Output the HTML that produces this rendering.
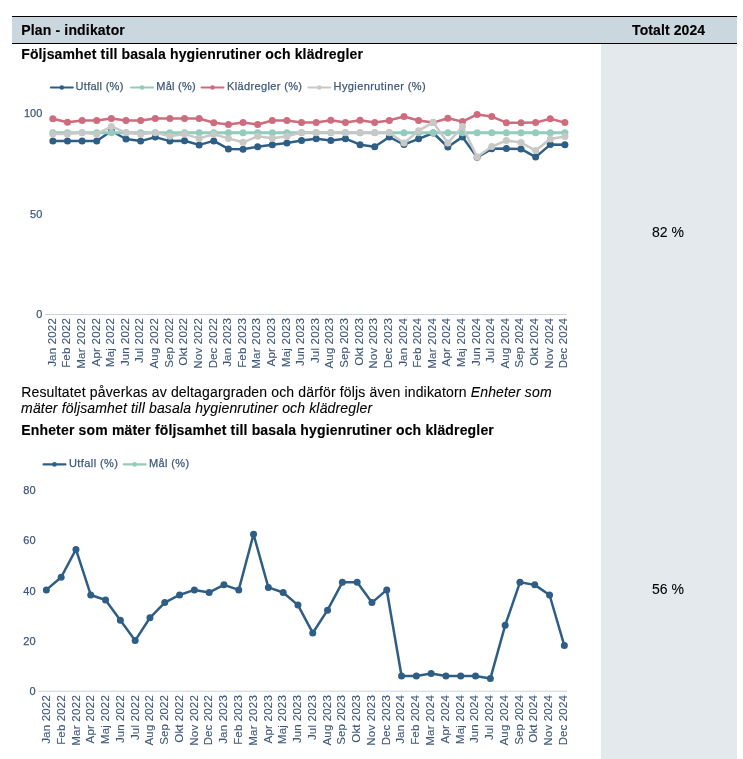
<!DOCTYPE html>
<html><head><meta charset="utf-8"><style>
html,body{margin:0;padding:0;background:#fff;}
body{width:743px;height:759px;position:relative;overflow:hidden;font-family:"Liberation Sans",sans-serif;}
.hdr{position:absolute;left:12px;top:16px;width:725px;height:26px;background:#cbd7df;border-top:1px solid #000;border-bottom:1px solid #000;}
.col{position:absolute;left:601px;top:44px;width:136px;height:715px;background:#e4e9ed;}
svg{position:absolute;left:0;top:0;will-change:transform;}
svg text{font-family:"Liberation Sans",sans-serif;}
.b{font-weight:bold;font-size:14px;letter-spacing:0px;fill:#000;stroke:#000;stroke-width:0.15px;}
.r{font-size:14px;letter-spacing:0px;fill:#000;stroke:#000;stroke-width:0.1px;}
.lg{font-size:11px;fill:#3f5879;stroke:#3f5879;stroke-width:0.25px;}
.yl{font-size:11px;fill:#3f5879;stroke:#3f5879;stroke-width:0.25px;}
.xl{font-size:11.5px;fill:#3f5879;stroke:#3f5879;stroke-width:0.12px;}
</style></head><body>
<div class="hdr"></div>
<div class="col"></div>
<svg width="743" height="759" viewBox="0 0 743 759">
<text x="21.2" y="35" class="b" textLength="103.6">Plan - indikator</text>
<text x="632.1" y="35" class="b" textLength="73">Totalt 2024</text>
<text x="21.2" y="59" class="b" textLength="341.7">Följsamhet till basala hygienrutiner och klädregler</text>
<text x="21.2" y="397" class="r" textLength="530.4">Resultatet påverkas av deltagargraden och därför följs även indikatorn <tspan font-style="italic">Enheter som</tspan></text>
<text x="21.1" y="412.7" class="r" font-style="italic" textLength="351">mäter följsamhet till basala hygienrutiner och klädregler</text>
<text x="21.2" y="435" class="b" textLength="472.6">Enheter som mäter följsamhet till basala hygienrutiner och klädregler</text>
<text x="652" y="237" class="r" textLength="32">82 %</text>
<text x="652" y="594" class="r" textLength="32">56 %</text>
<line x1="45" y1="314.5" x2="567" y2="314.5" stroke="#c9d3dc" stroke-width="1"/><text x="42.3" y="117.30" text-anchor="end" class="yl">100</text><text x="42.3" y="217.80" text-anchor="end" class="yl">50</text><text x="42.3" y="318.40" text-anchor="end" class="yl">0</text><text transform="translate(55.80,318.20) rotate(-90)" text-anchor="end" textLength="48.64" class="xl">Jan 2022</text><text transform="translate(70.41,318.20) rotate(-90)" text-anchor="end" textLength="49.64" class="xl">Feb 2022</text><text transform="translate(85.03,318.20) rotate(-90)" text-anchor="end" textLength="50.66" class="xl">Mar 2022</text><text transform="translate(99.64,318.20) rotate(-90)" text-anchor="end" textLength="48.21" class="xl">Apr 2022</text><text transform="translate(114.26,318.20) rotate(-90)" text-anchor="end" textLength="48.96" class="xl">Maj 2022</text><text transform="translate(128.87,318.20) rotate(-90)" text-anchor="end" textLength="47.93" class="xl">Jun 2022</text><text transform="translate(143.49,318.20) rotate(-90)" text-anchor="end" textLength="44.9" class="xl">Jul 2022</text><text transform="translate(158.10,318.20) rotate(-90)" text-anchor="end" textLength="50.26" class="xl">Aug 2022</text><text transform="translate(172.71,318.20) rotate(-90)" text-anchor="end" textLength="49.45" class="xl">Sep 2022</text><text transform="translate(187.33,318.20) rotate(-90)" text-anchor="end" textLength="47.48" class="xl">Okt 2022</text><text transform="translate(201.94,318.20) rotate(-90)" text-anchor="end" textLength="50.47" class="xl">Nov 2022</text><text transform="translate(216.56,318.20) rotate(-90)" text-anchor="end" textLength="50.16" class="xl">Dec 2022</text><text transform="translate(231.17,318.20) rotate(-90)" text-anchor="end" textLength="48.64" class="xl">Jan 2023</text><text transform="translate(245.79,318.20) rotate(-90)" text-anchor="end" textLength="49.64" class="xl">Feb 2023</text><text transform="translate(260.40,318.20) rotate(-90)" text-anchor="end" textLength="50.66" class="xl">Mar 2023</text><text transform="translate(275.01,318.20) rotate(-90)" text-anchor="end" textLength="48.21" class="xl">Apr 2023</text><text transform="translate(289.63,318.20) rotate(-90)" text-anchor="end" textLength="48.96" class="xl">Maj 2023</text><text transform="translate(304.24,318.20) rotate(-90)" text-anchor="end" textLength="47.93" class="xl">Jun 2023</text><text transform="translate(318.86,318.20) rotate(-90)" text-anchor="end" textLength="44.9" class="xl">Jul 2023</text><text transform="translate(333.47,318.20) rotate(-90)" text-anchor="end" textLength="50.26" class="xl">Aug 2023</text><text transform="translate(348.09,318.20) rotate(-90)" text-anchor="end" textLength="49.45" class="xl">Sep 2023</text><text transform="translate(362.70,318.20) rotate(-90)" text-anchor="end" textLength="47.48" class="xl">Okt 2023</text><text transform="translate(377.31,318.20) rotate(-90)" text-anchor="end" textLength="50.47" class="xl">Nov 2023</text><text transform="translate(391.93,318.20) rotate(-90)" text-anchor="end" textLength="50.16" class="xl">Dec 2023</text><text transform="translate(406.54,318.20) rotate(-90)" text-anchor="end" textLength="48.64" class="xl">Jan 2024</text><text transform="translate(421.16,318.20) rotate(-90)" text-anchor="end" textLength="49.64" class="xl">Feb 2024</text><text transform="translate(435.77,318.20) rotate(-90)" text-anchor="end" textLength="50.66" class="xl">Mar 2024</text><text transform="translate(450.39,318.20) rotate(-90)" text-anchor="end" textLength="48.21" class="xl">Apr 2024</text><text transform="translate(465.00,318.20) rotate(-90)" text-anchor="end" textLength="48.96" class="xl">Maj 2024</text><text transform="translate(479.61,318.20) rotate(-90)" text-anchor="end" textLength="47.93" class="xl">Jun 2024</text><text transform="translate(494.23,318.20) rotate(-90)" text-anchor="end" textLength="44.9" class="xl">Jul 2024</text><text transform="translate(508.84,318.20) rotate(-90)" text-anchor="end" textLength="50.26" class="xl">Aug 2024</text><text transform="translate(523.46,318.20) rotate(-90)" text-anchor="end" textLength="49.45" class="xl">Sep 2024</text><text transform="translate(538.07,318.20) rotate(-90)" text-anchor="end" textLength="47.48" class="xl">Okt 2024</text><text transform="translate(552.69,318.20) rotate(-90)" text-anchor="end" textLength="50.47" class="xl">Nov 2024</text><text transform="translate(567.30,318.20) rotate(-90)" text-anchor="end" textLength="50.16" class="xl">Dec 2024</text><polyline points="52.85,141.00 67.48,141.00 82.11,141.00 96.74,141.00 111.37,131.00 126.00,139.00 140.63,141.10 155.26,137.10 169.89,141.10 184.52,140.70 199.15,144.90 213.78,140.90 228.41,148.90 243.04,149.20 257.67,146.80 272.30,144.70 286.93,143.00 301.56,140.50 316.19,138.70 330.82,140.50 345.45,138.70 360.08,144.70 374.71,146.80 389.34,137.00 403.97,144.60 418.60,138.80 433.23,133.00 447.86,147.00 462.49,136.90 477.12,157.30 491.75,148.80 506.38,148.60 521.01,148.90 535.64,157.10 550.27,144.60 564.90,144.80" fill="none" stroke="#2e5e86" stroke-width="2.5" stroke-linejoin="round"/><circle cx="52.85" cy="141.00" r="3.5" fill="#2e5e86"/><circle cx="67.48" cy="141.00" r="3.5" fill="#2e5e86"/><circle cx="82.11" cy="141.00" r="3.5" fill="#2e5e86"/><circle cx="96.74" cy="141.00" r="3.5" fill="#2e5e86"/><circle cx="111.37" cy="131.00" r="3.5" fill="#2e5e86"/><circle cx="126.00" cy="139.00" r="3.5" fill="#2e5e86"/><circle cx="140.63" cy="141.10" r="3.5" fill="#2e5e86"/><circle cx="155.26" cy="137.10" r="3.5" fill="#2e5e86"/><circle cx="169.89" cy="141.10" r="3.5" fill="#2e5e86"/><circle cx="184.52" cy="140.70" r="3.5" fill="#2e5e86"/><circle cx="199.15" cy="144.90" r="3.5" fill="#2e5e86"/><circle cx="213.78" cy="140.90" r="3.5" fill="#2e5e86"/><circle cx="228.41" cy="148.90" r="3.5" fill="#2e5e86"/><circle cx="243.04" cy="149.20" r="3.5" fill="#2e5e86"/><circle cx="257.67" cy="146.80" r="3.5" fill="#2e5e86"/><circle cx="272.30" cy="144.70" r="3.5" fill="#2e5e86"/><circle cx="286.93" cy="143.00" r="3.5" fill="#2e5e86"/><circle cx="301.56" cy="140.50" r="3.5" fill="#2e5e86"/><circle cx="316.19" cy="138.70" r="3.5" fill="#2e5e86"/><circle cx="330.82" cy="140.50" r="3.5" fill="#2e5e86"/><circle cx="345.45" cy="138.70" r="3.5" fill="#2e5e86"/><circle cx="360.08" cy="144.70" r="3.5" fill="#2e5e86"/><circle cx="374.71" cy="146.80" r="3.5" fill="#2e5e86"/><circle cx="389.34" cy="137.00" r="3.5" fill="#2e5e86"/><circle cx="403.97" cy="144.60" r="3.5" fill="#2e5e86"/><circle cx="418.60" cy="138.80" r="3.5" fill="#2e5e86"/><circle cx="433.23" cy="133.00" r="3.5" fill="#2e5e86"/><circle cx="447.86" cy="147.00" r="3.5" fill="#2e5e86"/><circle cx="462.49" cy="136.90" r="3.5" fill="#2e5e86"/><circle cx="477.12" cy="157.30" r="3.5" fill="#2e5e86"/><circle cx="491.75" cy="148.80" r="3.5" fill="#2e5e86"/><circle cx="506.38" cy="148.60" r="3.5" fill="#2e5e86"/><circle cx="521.01" cy="148.90" r="3.5" fill="#2e5e86"/><circle cx="535.64" cy="157.10" r="3.5" fill="#2e5e86"/><circle cx="550.27" cy="144.60" r="3.5" fill="#2e5e86"/><circle cx="564.90" cy="144.80" r="3.5" fill="#2e5e86"/><polyline points="52.85,132.70 67.48,132.70 82.11,132.70 96.74,132.70 111.37,132.70 126.00,132.70 140.63,132.70 155.26,132.70 169.89,132.70 184.52,132.70 199.15,132.70 213.78,132.70 228.41,132.70 243.04,132.70 257.67,132.70 272.30,132.70 286.93,132.70 301.56,132.70 316.19,132.70 330.82,132.70 345.45,132.70 360.08,132.70 374.71,132.70 389.34,132.70 403.97,132.70 418.60,132.70 433.23,132.70 447.86,132.70 462.49,132.70 477.12,132.70 491.75,132.70 506.38,132.70 521.01,132.70 535.64,132.70 550.27,132.70 564.90,132.70" fill="none" stroke="#93cbbc" stroke-width="3" stroke-linejoin="round"/><circle cx="52.85" cy="132.70" r="3.5" fill="#93cbbc"/><circle cx="67.48" cy="132.70" r="3.5" fill="#93cbbc"/><circle cx="82.11" cy="132.70" r="3.5" fill="#93cbbc"/><circle cx="96.74" cy="132.70" r="3.5" fill="#93cbbc"/><circle cx="111.37" cy="132.70" r="3.5" fill="#93cbbc"/><circle cx="126.00" cy="132.70" r="3.5" fill="#93cbbc"/><circle cx="140.63" cy="132.70" r="3.5" fill="#93cbbc"/><circle cx="155.26" cy="132.70" r="3.5" fill="#93cbbc"/><circle cx="169.89" cy="132.70" r="3.5" fill="#93cbbc"/><circle cx="184.52" cy="132.70" r="3.5" fill="#93cbbc"/><circle cx="199.15" cy="132.70" r="3.5" fill="#93cbbc"/><circle cx="213.78" cy="132.70" r="3.5" fill="#93cbbc"/><circle cx="228.41" cy="132.70" r="3.5" fill="#93cbbc"/><circle cx="243.04" cy="132.70" r="3.5" fill="#93cbbc"/><circle cx="257.67" cy="132.70" r="3.5" fill="#93cbbc"/><circle cx="272.30" cy="132.70" r="3.5" fill="#93cbbc"/><circle cx="286.93" cy="132.70" r="3.5" fill="#93cbbc"/><circle cx="301.56" cy="132.70" r="3.5" fill="#93cbbc"/><circle cx="316.19" cy="132.70" r="3.5" fill="#93cbbc"/><circle cx="330.82" cy="132.70" r="3.5" fill="#93cbbc"/><circle cx="345.45" cy="132.70" r="3.5" fill="#93cbbc"/><circle cx="360.08" cy="132.70" r="3.5" fill="#93cbbc"/><circle cx="374.71" cy="132.70" r="3.5" fill="#93cbbc"/><circle cx="389.34" cy="132.70" r="3.5" fill="#93cbbc"/><circle cx="403.97" cy="132.70" r="3.5" fill="#93cbbc"/><circle cx="418.60" cy="132.70" r="3.5" fill="#93cbbc"/><circle cx="433.23" cy="132.70" r="3.5" fill="#93cbbc"/><circle cx="447.86" cy="132.70" r="3.5" fill="#93cbbc"/><circle cx="462.49" cy="132.70" r="3.5" fill="#93cbbc"/><circle cx="477.12" cy="132.70" r="3.5" fill="#93cbbc"/><circle cx="491.75" cy="132.70" r="3.5" fill="#93cbbc"/><circle cx="506.38" cy="132.70" r="3.5" fill="#93cbbc"/><circle cx="521.01" cy="132.70" r="3.5" fill="#93cbbc"/><circle cx="535.64" cy="132.70" r="3.5" fill="#93cbbc"/><circle cx="550.27" cy="132.70" r="3.5" fill="#93cbbc"/><circle cx="564.90" cy="132.70" r="3.5" fill="#93cbbc"/><polyline points="52.85,118.70 67.48,122.30 82.11,120.50 96.74,120.50 111.37,118.60 126.00,120.40 140.63,120.50 155.26,118.50 169.89,118.50 184.52,118.50 199.15,118.50 213.78,122.80 228.41,124.50 243.04,122.50 257.67,124.50 272.30,120.50 286.93,120.40 301.56,122.50 316.19,122.50 330.82,120.30 345.45,122.50 360.08,120.30 374.71,122.50 389.34,120.40 403.97,116.50 418.60,120.50 433.23,122.60 447.86,118.30 462.49,121.60 477.12,114.40 491.75,116.60 506.38,122.70 521.01,122.70 535.64,122.60 550.27,118.70 564.90,122.60" fill="none" stroke="#ce6c7e" stroke-width="2.5" stroke-linejoin="round"/><circle cx="52.85" cy="118.70" r="3.5" fill="#ce6c7e"/><circle cx="67.48" cy="122.30" r="3.5" fill="#ce6c7e"/><circle cx="82.11" cy="120.50" r="3.5" fill="#ce6c7e"/><circle cx="96.74" cy="120.50" r="3.5" fill="#ce6c7e"/><circle cx="111.37" cy="118.60" r="3.5" fill="#ce6c7e"/><circle cx="126.00" cy="120.40" r="3.5" fill="#ce6c7e"/><circle cx="140.63" cy="120.50" r="3.5" fill="#ce6c7e"/><circle cx="155.26" cy="118.50" r="3.5" fill="#ce6c7e"/><circle cx="169.89" cy="118.50" r="3.5" fill="#ce6c7e"/><circle cx="184.52" cy="118.50" r="3.5" fill="#ce6c7e"/><circle cx="199.15" cy="118.50" r="3.5" fill="#ce6c7e"/><circle cx="213.78" cy="122.80" r="3.5" fill="#ce6c7e"/><circle cx="228.41" cy="124.50" r="3.5" fill="#ce6c7e"/><circle cx="243.04" cy="122.50" r="3.5" fill="#ce6c7e"/><circle cx="257.67" cy="124.50" r="3.5" fill="#ce6c7e"/><circle cx="272.30" cy="120.50" r="3.5" fill="#ce6c7e"/><circle cx="286.93" cy="120.40" r="3.5" fill="#ce6c7e"/><circle cx="301.56" cy="122.50" r="3.5" fill="#ce6c7e"/><circle cx="316.19" cy="122.50" r="3.5" fill="#ce6c7e"/><circle cx="330.82" cy="120.30" r="3.5" fill="#ce6c7e"/><circle cx="345.45" cy="122.50" r="3.5" fill="#ce6c7e"/><circle cx="360.08" cy="120.30" r="3.5" fill="#ce6c7e"/><circle cx="374.71" cy="122.50" r="3.5" fill="#ce6c7e"/><circle cx="389.34" cy="120.40" r="3.5" fill="#ce6c7e"/><circle cx="403.97" cy="116.50" r="3.5" fill="#ce6c7e"/><circle cx="418.60" cy="120.50" r="3.5" fill="#ce6c7e"/><circle cx="433.23" cy="122.60" r="3.5" fill="#ce6c7e"/><circle cx="447.86" cy="118.30" r="3.5" fill="#ce6c7e"/><circle cx="462.49" cy="121.60" r="3.5" fill="#ce6c7e"/><circle cx="477.12" cy="114.40" r="3.5" fill="#ce6c7e"/><circle cx="491.75" cy="116.60" r="3.5" fill="#ce6c7e"/><circle cx="506.38" cy="122.70" r="3.5" fill="#ce6c7e"/><circle cx="521.01" cy="122.70" r="3.5" fill="#ce6c7e"/><circle cx="535.64" cy="122.60" r="3.5" fill="#ce6c7e"/><circle cx="550.27" cy="118.70" r="3.5" fill="#ce6c7e"/><circle cx="564.90" cy="122.60" r="3.5" fill="#ce6c7e"/><polyline points="52.85,134.10 67.48,134.10 82.11,132.50 96.74,134.20 111.37,126.40 126.00,132.60 140.63,134.20 155.26,132.60 169.89,136.30 184.52,134.10 199.15,138.40 213.78,134.20 228.41,138.40 243.04,142.30 257.67,136.30 272.30,138.30 286.93,136.20 301.56,132.50 316.19,132.50 330.82,132.50 345.45,132.50 360.08,132.50 374.71,132.50 389.34,132.50 403.97,143.00 418.60,130.70 433.23,122.40 447.86,143.00 462.49,126.60 477.12,157.00 491.75,146.60 506.38,140.50 521.01,142.60 535.64,150.60 550.27,139.00 564.90,136.50" fill="none" stroke="#c8c8c6" stroke-width="2.5" stroke-linejoin="round"/><circle cx="52.85" cy="134.10" r="3.5" fill="#c8c8c6"/><circle cx="67.48" cy="134.10" r="3.5" fill="#c8c8c6"/><circle cx="82.11" cy="132.50" r="3.5" fill="#c8c8c6"/><circle cx="96.74" cy="134.20" r="3.5" fill="#c8c8c6"/><circle cx="111.37" cy="126.40" r="3.5" fill="#c8c8c6"/><circle cx="126.00" cy="132.60" r="3.5" fill="#c8c8c6"/><circle cx="140.63" cy="134.20" r="3.5" fill="#c8c8c6"/><circle cx="155.26" cy="132.60" r="3.5" fill="#c8c8c6"/><circle cx="169.89" cy="136.30" r="3.5" fill="#c8c8c6"/><circle cx="184.52" cy="134.10" r="3.5" fill="#c8c8c6"/><circle cx="199.15" cy="138.40" r="3.5" fill="#c8c8c6"/><circle cx="213.78" cy="134.20" r="3.5" fill="#c8c8c6"/><circle cx="228.41" cy="138.40" r="3.5" fill="#c8c8c6"/><circle cx="243.04" cy="142.30" r="3.5" fill="#c8c8c6"/><circle cx="257.67" cy="136.30" r="3.5" fill="#c8c8c6"/><circle cx="272.30" cy="138.30" r="3.5" fill="#c8c8c6"/><circle cx="286.93" cy="136.20" r="3.5" fill="#c8c8c6"/><circle cx="301.56" cy="132.50" r="3.5" fill="#c8c8c6"/><circle cx="316.19" cy="132.50" r="3.5" fill="#c8c8c6"/><circle cx="330.82" cy="132.50" r="3.5" fill="#c8c8c6"/><circle cx="345.45" cy="132.50" r="3.5" fill="#c8c8c6"/><circle cx="360.08" cy="132.50" r="3.5" fill="#c8c8c6"/><circle cx="374.71" cy="132.50" r="3.5" fill="#c8c8c6"/><circle cx="389.34" cy="132.50" r="3.5" fill="#c8c8c6"/><circle cx="403.97" cy="143.00" r="3.5" fill="#c8c8c6"/><circle cx="418.60" cy="130.70" r="3.5" fill="#c8c8c6"/><circle cx="433.23" cy="122.40" r="3.5" fill="#c8c8c6"/><circle cx="447.86" cy="143.00" r="3.5" fill="#c8c8c6"/><circle cx="462.49" cy="126.60" r="3.5" fill="#c8c8c6"/><circle cx="477.12" cy="157.00" r="3.5" fill="#c8c8c6"/><circle cx="491.75" cy="146.60" r="3.5" fill="#c8c8c6"/><circle cx="506.38" cy="140.50" r="3.5" fill="#c8c8c6"/><circle cx="521.01" cy="142.60" r="3.5" fill="#c8c8c6"/><circle cx="535.64" cy="150.60" r="3.5" fill="#c8c8c6"/><circle cx="550.27" cy="139.00" r="3.5" fill="#c8c8c6"/><circle cx="564.90" cy="136.50" r="3.5" fill="#c8c8c6"/><line x1="50.9" y1="87.5" x2="72.69999999999999" y2="87.5" stroke="#2e5e86" stroke-width="2.2" stroke-linecap="round"/><circle cx="61.8" cy="87.5" r="2.3" fill="#2e5e86"/><text x="75.60000000000001" y="90.0" textLength="47.7" class="lg">Utfall (%)</text><line x1="131.1" y1="87.5" x2="152.9" y2="87.5" stroke="#93cbbc" stroke-width="2.2" stroke-linecap="round"/><circle cx="142" cy="87.5" r="2.3" fill="#93cbbc"/><text x="156.20000000000002" y="90.0" textLength="39.5" class="lg">Mål (%)</text><line x1="201.6" y1="87.5" x2="223.4" y2="87.5" stroke="#ce6c7e" stroke-width="2.2" stroke-linecap="round"/><circle cx="212.5" cy="87.5" r="2.3" fill="#ce6c7e"/><text x="227.0" y="90.0" textLength="75.0" class="lg">Klädregler (%)</text><line x1="308.40000000000003" y1="87.5" x2="330.2" y2="87.5" stroke="#c8c8c6" stroke-width="2.2" stroke-linecap="round"/><circle cx="319.3" cy="87.5" r="2.3" fill="#c8c8c6"/><text x="333.59999999999997" y="90.0" textLength="92.0" class="lg">Hygienrutiner (%)</text><line x1="38.4" y1="691.2" x2="567" y2="691.2" stroke="#c9d3dc" stroke-width="1"/><text x="35.6" y="494.20" text-anchor="end" class="yl">80</text><text x="35.6" y="544.45" text-anchor="end" class="yl">60</text><text x="35.6" y="594.70" text-anchor="end" class="yl">40</text><text x="35.6" y="644.95" text-anchor="end" class="yl">20</text><text x="35.6" y="695.20" text-anchor="end" class="yl">0</text><text transform="translate(50.00,695.20) rotate(-90)" text-anchor="end" textLength="48.64" class="xl">Jan 2022</text><text transform="translate(64.77,695.20) rotate(-90)" text-anchor="end" textLength="49.64" class="xl">Feb 2022</text><text transform="translate(79.54,695.20) rotate(-90)" text-anchor="end" textLength="50.66" class="xl">Mar 2022</text><text transform="translate(94.31,695.20) rotate(-90)" text-anchor="end" textLength="48.21" class="xl">Apr 2022</text><text transform="translate(109.08,695.20) rotate(-90)" text-anchor="end" textLength="48.96" class="xl">Maj 2022</text><text transform="translate(123.85,695.20) rotate(-90)" text-anchor="end" textLength="47.93" class="xl">Jun 2022</text><text transform="translate(138.62,695.20) rotate(-90)" text-anchor="end" textLength="44.9" class="xl">Jul 2022</text><text transform="translate(153.39,695.20) rotate(-90)" text-anchor="end" textLength="50.26" class="xl">Aug 2022</text><text transform="translate(168.16,695.20) rotate(-90)" text-anchor="end" textLength="49.45" class="xl">Sep 2022</text><text transform="translate(182.93,695.20) rotate(-90)" text-anchor="end" textLength="47.48" class="xl">Okt 2022</text><text transform="translate(197.70,695.20) rotate(-90)" text-anchor="end" textLength="50.47" class="xl">Nov 2022</text><text transform="translate(212.47,695.20) rotate(-90)" text-anchor="end" textLength="50.16" class="xl">Dec 2022</text><text transform="translate(227.24,695.20) rotate(-90)" text-anchor="end" textLength="48.64" class="xl">Jan 2023</text><text transform="translate(242.01,695.20) rotate(-90)" text-anchor="end" textLength="49.64" class="xl">Feb 2023</text><text transform="translate(256.78,695.20) rotate(-90)" text-anchor="end" textLength="50.66" class="xl">Mar 2023</text><text transform="translate(271.55,695.20) rotate(-90)" text-anchor="end" textLength="48.21" class="xl">Apr 2023</text><text transform="translate(286.32,695.20) rotate(-90)" text-anchor="end" textLength="48.96" class="xl">Maj 2023</text><text transform="translate(301.09,695.20) rotate(-90)" text-anchor="end" textLength="47.93" class="xl">Jun 2023</text><text transform="translate(315.86,695.20) rotate(-90)" text-anchor="end" textLength="44.9" class="xl">Jul 2023</text><text transform="translate(330.63,695.20) rotate(-90)" text-anchor="end" textLength="50.26" class="xl">Aug 2023</text><text transform="translate(345.40,695.20) rotate(-90)" text-anchor="end" textLength="49.45" class="xl">Sep 2023</text><text transform="translate(360.17,695.20) rotate(-90)" text-anchor="end" textLength="47.48" class="xl">Okt 2023</text><text transform="translate(374.94,695.20) rotate(-90)" text-anchor="end" textLength="50.47" class="xl">Nov 2023</text><text transform="translate(389.71,695.20) rotate(-90)" text-anchor="end" textLength="50.16" class="xl">Dec 2023</text><text transform="translate(404.48,695.20) rotate(-90)" text-anchor="end" textLength="48.64" class="xl">Jan 2024</text><text transform="translate(419.25,695.20) rotate(-90)" text-anchor="end" textLength="49.64" class="xl">Feb 2024</text><text transform="translate(434.02,695.20) rotate(-90)" text-anchor="end" textLength="50.66" class="xl">Mar 2024</text><text transform="translate(448.79,695.20) rotate(-90)" text-anchor="end" textLength="48.21" class="xl">Apr 2024</text><text transform="translate(463.56,695.20) rotate(-90)" text-anchor="end" textLength="48.96" class="xl">Maj 2024</text><text transform="translate(478.33,695.20) rotate(-90)" text-anchor="end" textLength="47.93" class="xl">Jun 2024</text><text transform="translate(493.10,695.20) rotate(-90)" text-anchor="end" textLength="44.9" class="xl">Jul 2024</text><text transform="translate(507.87,695.20) rotate(-90)" text-anchor="end" textLength="50.26" class="xl">Aug 2024</text><text transform="translate(522.64,695.20) rotate(-90)" text-anchor="end" textLength="49.45" class="xl">Sep 2024</text><text transform="translate(537.41,695.20) rotate(-90)" text-anchor="end" textLength="47.48" class="xl">Okt 2024</text><text transform="translate(552.18,695.20) rotate(-90)" text-anchor="end" textLength="50.47" class="xl">Nov 2024</text><text transform="translate(566.95,695.20) rotate(-90)" text-anchor="end" textLength="50.16" class="xl">Dec 2024</text><polyline points="46.35,589.92 61.15,577.26 75.95,549.41 90.75,594.98 105.55,600.05 120.35,620.30 135.15,640.56 149.95,617.77 164.75,602.58 179.55,594.98 194.35,589.92 209.15,592.45 223.95,584.86 238.75,589.92 253.55,534.22 268.35,587.39 283.15,592.45 297.95,605.11 312.75,632.96 327.55,610.18 342.35,582.32 357.15,582.32 371.95,602.58 386.75,589.92 401.55,676.01 416.35,676.01 431.15,673.48 445.95,676.01 460.75,676.01 475.55,676.01 490.35,678.54 505.15,625.37 519.95,582.32 534.75,584.86 549.55,594.98 564.35,645.62" fill="none" stroke="#2e5e86" stroke-width="2.5" stroke-linejoin="round"/><circle cx="46.35" cy="589.92" r="3.5" fill="#2e5e86"/><circle cx="61.15" cy="577.26" r="3.5" fill="#2e5e86"/><circle cx="75.95" cy="549.41" r="3.5" fill="#2e5e86"/><circle cx="90.75" cy="594.98" r="3.5" fill="#2e5e86"/><circle cx="105.55" cy="600.05" r="3.5" fill="#2e5e86"/><circle cx="120.35" cy="620.30" r="3.5" fill="#2e5e86"/><circle cx="135.15" cy="640.56" r="3.5" fill="#2e5e86"/><circle cx="149.95" cy="617.77" r="3.5" fill="#2e5e86"/><circle cx="164.75" cy="602.58" r="3.5" fill="#2e5e86"/><circle cx="179.55" cy="594.98" r="3.5" fill="#2e5e86"/><circle cx="194.35" cy="589.92" r="3.5" fill="#2e5e86"/><circle cx="209.15" cy="592.45" r="3.5" fill="#2e5e86"/><circle cx="223.95" cy="584.86" r="3.5" fill="#2e5e86"/><circle cx="238.75" cy="589.92" r="3.5" fill="#2e5e86"/><circle cx="253.55" cy="534.22" r="3.5" fill="#2e5e86"/><circle cx="268.35" cy="587.39" r="3.5" fill="#2e5e86"/><circle cx="283.15" cy="592.45" r="3.5" fill="#2e5e86"/><circle cx="297.95" cy="605.11" r="3.5" fill="#2e5e86"/><circle cx="312.75" cy="632.96" r="3.5" fill="#2e5e86"/><circle cx="327.55" cy="610.18" r="3.5" fill="#2e5e86"/><circle cx="342.35" cy="582.32" r="3.5" fill="#2e5e86"/><circle cx="357.15" cy="582.32" r="3.5" fill="#2e5e86"/><circle cx="371.95" cy="602.58" r="3.5" fill="#2e5e86"/><circle cx="386.75" cy="589.92" r="3.5" fill="#2e5e86"/><circle cx="401.55" cy="676.01" r="3.5" fill="#2e5e86"/><circle cx="416.35" cy="676.01" r="3.5" fill="#2e5e86"/><circle cx="431.15" cy="673.48" r="3.5" fill="#2e5e86"/><circle cx="445.95" cy="676.01" r="3.5" fill="#2e5e86"/><circle cx="460.75" cy="676.01" r="3.5" fill="#2e5e86"/><circle cx="475.55" cy="676.01" r="3.5" fill="#2e5e86"/><circle cx="490.35" cy="678.54" r="3.5" fill="#2e5e86"/><circle cx="505.15" cy="625.37" r="3.5" fill="#2e5e86"/><circle cx="519.95" cy="582.32" r="3.5" fill="#2e5e86"/><circle cx="534.75" cy="584.86" r="3.5" fill="#2e5e86"/><circle cx="549.55" cy="594.98" r="3.5" fill="#2e5e86"/><circle cx="564.35" cy="645.62" r="3.5" fill="#2e5e86"/><line x1="43.6" y1="464.4" x2="65.4" y2="464.4" stroke="#2e5e86" stroke-width="2.2" stroke-linecap="round"/><circle cx="54.5" cy="464.4" r="2.3" fill="#2e5e86"/><text x="68.9" y="466.9" textLength="49.1" class="lg">Utfall (%)</text><line x1="123.8" y1="464.4" x2="145.6" y2="464.4" stroke="#93cbbc" stroke-width="2.2" stroke-linecap="round"/><circle cx="134.7" cy="464.4" r="2.3" fill="#93cbbc"/><text x="149.0" y="466.9" textLength="40.2" class="lg">Mål (%)</text>
</svg>
</body></html>
